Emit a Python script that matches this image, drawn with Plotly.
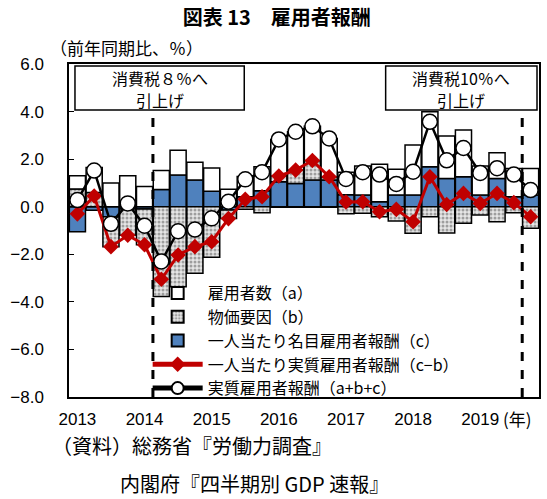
import plotly.graph_objects as go

quarters = list(range(28))  # 2013Q1 .. 2019Q4
year_ticks = [0, 4, 8, 12, 16, 20, 24]
year_labels = ["2013", "2014", "2015", "2016", "2017", "2018", "2019"]

# (a) 雇用者数
employees = [0.55, 1.05, 1.0, 1.3, 0.85, 0.8, 1.04, 0.75, 0.98, 0.73,
             0.85, 1.01, 1.54, 1.61, 1.44, 1.61, 0.95, 1.22, 1.58, 1.08,
             2.1, 2.31, 1.78, 1.96, 1.22, 1.08, 1.19, 1.12]
# (b) 物価要因
price = [0.75, 0.6, -1.26, -1.1, -1.5, -3.77, -3.36, -2.8, -2.12, -0.36,
         -0.11, -0.25, 0.24, 0.56, 0.82, 0.14, -0.3, -0.28, -0.42, -0.6,
         -1.12, -0.42, -1.1, -0.7, -0.35, -0.63, -0.25, -0.91]
# (c) 一人当たり名目雇用者報酬
nominal_pc = [-1.05, -0.15, -0.42, -0.1, -0.1, 0.72, 1.33, 1.12, 0.65, -0.14,
              0.42, 0.67, 1.05, 0.98, 1.12, 1.12, 0.5, 0.49, 0.21, 0.49,
              0.49, 1.68, 1.19, 1.26, 0.49, 1.19, 0.42, 0.49]
# 一人当たり実質雇用者報酬
real_pc = [-0.3, 0.45, -1.68, -1.2, -1.6, -3.05, -2.03, -1.68, -1.47, -0.5,
           0.31, 0.42, 1.29, 1.54, 1.94, 1.26, 0.2, 0.21, -0.21, -0.11,
           -0.63, 1.26, 0.09, 0.56, 0.14, 0.56, 0.17, -0.42]
# 実質雇用者報酬
real_total = [0.28, 1.52, -0.72, 0.14, -0.8, -2.3, -1.03, -0.96, -0.49, 0.21,
              1.15, 1.45, 2.83, 3.15, 3.38, 2.87, 1.17, 1.45, 1.35, 0.96,
              1.47, 3.57, 1.95, 2.47, 1.42, 1.62, 1.35, 0.7]

JP = "Noto Sans CJK JP"
NUM = "Liberation Sans"

fig = go.Figure()
fig.add_trace(go.Bar(x=quarters, y=nominal_pc, name="一人当たり名目雇用者報酬（c）",
                     marker=dict(color="#4F81BD", line=dict(color="black", width=1.5)),
                     legendrank=3))
fig.add_trace(go.Bar(x=quarters, y=price, name="物価要因（b）",
                     marker=dict(color="white", line=dict(color="black", width=1.5),
                                 pattern=dict(shape=".", fgcolor="#555555", bgcolor="#e6e6e6",
                                              size=4, solidity=0.45)),
                     legendrank=2))
fig.add_trace(go.Bar(x=quarters, y=employees, name="雇用者数（a）",
                     marker=dict(color="white", line=dict(color="black", width=1.5)),
                     legendrank=1))
fig.add_trace(go.Scatter(x=quarters, y=real_pc, name="一人当たり実質雇用者報酬（c−b）",
                         mode="lines+markers",
                         line=dict(color="#C00000", width=3),
                         marker=dict(symbol="diamond", size=12, color="#C00000"),
                         legendrank=4))
fig.add_trace(go.Scatter(x=quarters, y=real_total, name="実質雇用者報酬（a+b+c）",
                         mode="lines+markers",
                         line=dict(color="black", width=2.5),
                         marker=dict(symbol="circle", size=15, color="white",
                                     line=dict(color="black", width=1.5)),
                         legendrank=5))

# vertical dashed markers for the tax hikes
box_bottom = (397 - 110) / 333.0
box_top = (397 - 66) / 333.0
for xv in [4.5, 26.5]:
    fig.add_shape(type="line", xref="x", yref="paper", x0=xv, x1=xv, y0=0, y1=box_bottom,
                  line=dict(color="black", width=3, dash="dash"))

# annotation boxes
boxes = [((75 - 69) / 472.0, (245 - 69) / 472.0, "消費税８％へ", "引上げ"),
         ((387 - 69) / 472.0, (539 - 69) / 472.0, "消費税10％へ", "引上げ")]
for x0, x1, l1, l2 in boxes:
    fig.add_shape(type="rect", xref="paper", yref="paper", x0=x0, x1=x1, y0=box_bottom, y1=box_top,
                  line=dict(color="black", width=1.5), fillcolor="white", layer="above")
    xc = (x0 + x1) / 2
    fig.add_annotation(xref="paper", yref="paper", x=xc, y=(397 - 78) / 333.0,
                       xanchor="center", yanchor="middle",
                       text=l1, showarrow=False, font=dict(family=JP, size=16, color="black"))
    fig.add_annotation(xref="paper", yref="paper", x=xc, y=(397 - 100) / 333.0,
                       xanchor="center", yanchor="middle",
                       text=l2, showarrow=False, font=dict(family=JP, size=16, color="black"))

fig.add_annotation(xref="paper", yref="paper", x=(48 - 69) / 472.0, y=1.051, xanchor="left", yanchor="middle",
                   text="（前年同期比、％）", showarrow=False,
                   font=dict(family=JP, size=17, color="black"))
fig.add_annotation(xref="paper", yref="paper", x=(503 - 69) / 472.0, y=-(418 - 397) / 333.0,
                   xanchor="left", yanchor="middle", text="(年)", showarrow=False,
                   font=dict(family=JP, size=17, color="black"))
fig.add_annotation(xref="paper", yref="paper", x=(50 - 69) / 472.0, y=-(445 - 397) / 333.0,
                   xanchor="left", yanchor="middle", text="（資料）総務省『労働力調査』", showarrow=False,
                   font=dict(family=JP, size=20, color="black"))
fig.add_annotation(xref="paper", yref="paper", x=(118 - 69) / 472.0, y=-(483 - 397) / 333.0,
                   xanchor="left", yanchor="middle", text="内閣府『四半期別 GDP 速報』", showarrow=False,
                   font=dict(family=JP, size=20, color="black"))

fig.update_layout(
    width=547, height=499,
    margin=dict(l=69, r=6, t=64, b=102),
    paper_bgcolor="white", plot_bgcolor="white",
    barmode="relative", bargap=0.04,
    title=dict(text="<b>図表 13　雇用者報酬</b>", x=0.506, xanchor="center",
               y=1 - 18 / 499.0, yanchor="middle",
               font=dict(family=JP, size=20, color="black")),
    showlegend=True,
    legend=dict(x=(148 - 69) / 472.0, y=(397 - 276) / 333.0, xanchor="left", yanchor="top",
                bgcolor="rgba(0,0,0,0)", font=dict(family=JP, size=16, color="black"),
                tracegroupgap=0, itemwidth=50, traceorder="normal", itemsizing="constant"),
    xaxis=dict(range=[-0.5, 27.5], tickmode="array", tickvals=year_ticks, ticktext=year_labels,
               showline=True, mirror=True, linecolor="black", linewidth=1.5,
               showgrid=False, zeroline=False, ticks="", ticklabelstandoff=6,
               tickfont=dict(family=NUM, size=17, color="black")),
    yaxis=dict(range=[-8, 6], dtick=2, tickformat=".1f",
               showline=True, mirror=True, linecolor="black", linewidth=1.5,
               showgrid=False, zeroline=True, zerolinecolor="black", zerolinewidth=2,
               ticks="inside", ticklen=5, tickcolor="black", ticklabelstandoff=20,
               tickfont=dict(family=NUM, size=17, color="black")),
)

fig.write_html("out.html", config={"displayModeBar": False},
               post_script="document.body.style.margin='0px';")
